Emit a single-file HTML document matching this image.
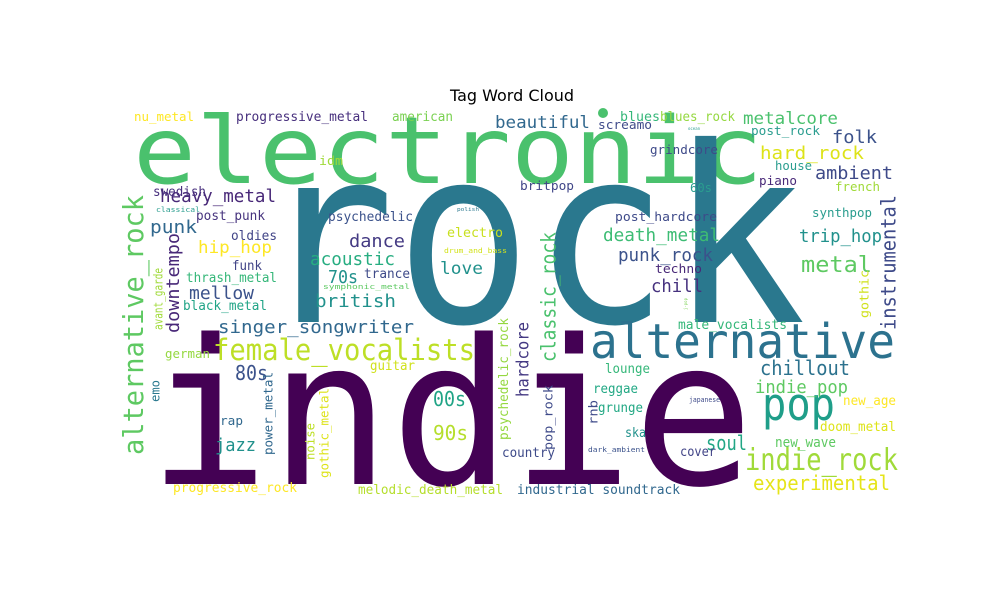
<!DOCTYPE html>
<html><head><meta charset="utf-8"><style>
html,body{margin:0;padding:0;background:#fff;width:1000px;height:600px;overflow:hidden}
svg text{font-family:"DejaVu Sans Mono","Liberation Mono",monospace}
</style></head><body>
<svg id="cloud" width="1000" height="600" viewBox="0 0 1000 600" xmlns="http://www.w3.org/2000/svg">
<rect width="1000" height="600" fill="#fff"/>
<text x="512" y="101" text-anchor="middle" font-size="16" style="font-family:'DejaVu Sans','Liberation Sans',sans-serif" fill="#000">Tag Word Cloud</text>
<circle cx="603" cy="113" r="5" fill="#4ac16d"/>
</svg>
<script>
// [word, x, baseline/bottom y, font size, color, ink length, vertical]
const words = [
["electronic",133,183,93,"#4ac16d",630,0],
["rock",258,322,245,"#2a788e",548,0],
["indie",148,484,202,"#440154",606,0],
["alternative",590,358,48,"#2c728e",305,0],
["female_vocalists",213,360,29,"#bddf26",262,0],
["pop",762,420,45,"#1f9e89",73,0],
["indie_rock",745,470,30,"#a0da39",153,0],
["experimental",753,490,20,"#e5e419",137,0],
["chillout",760,375,20,"#2c728e",90,0],
["indie_pop",755,393,18,"#5ec962",93,0],
["soul",706,450,20,"#21a685",41,0],
["new_wave",775,447,14,"#5ec962",61,0],
["cover",680,456,13,"#414487",36,0],
["doom_metal",820,431,13,"#dde318",76,0],
["new_age",843,405,13,"#fde725",53,0],
["japanese",689,402,7,"#3e4a89",31,0],
["dark_ambient",588,452,7,"#3b528b",57,0],
["ska",625,437,13,"#21918c",21,0],
["grunge",598,412,13,"#22a884",45,0],
["reggae",593,393,13,"#22a884",45,0],
["lounge",605,373,13,"#35b779",45,0],
["male_vocalists",678,329,13,"#35b779",109,0],
["industrial soundtrack",517,494,13,"#31688e",163,0],
["country",502,457,13,"#3e4a89",53,0],
["melodic_death_metal",358,494,13,"#b5de2b",145,0],
["progressive_rock",173,492,13,"#fde725",124,0],
["90s",433,440,20,"#b5de2b",35,0],
["00s",433,406,20,"#20a486",33,0],
["jazz",215,451,18,"#21918c",41,0],
["rap",220,425,12,"#31688e",23,0],
["guitar",370,370,13,"#d0e11c",45,0],
["german",165,358,12,"#95d840",45,0],
["80s",235,380,20,"#3b528b",33,0],
["singer_songwriter",218,333,18,"#31688e",196,0],
["british",315,307,18,"#21918c",81,0],
["mellow",189,299,18,"#3b528b",65,0],
["black_metal",183,310,13,"#20a486",84,0],
["thrash_metal",186,282,13,"#35b779",91,0],
["funk",232,270,13,"#414487",30,0],
["oldies",231,240,13,"#414487",46,0],
["post_punk",196,220,13,"#46337e",69,0],
["hip_hop",198,253,17,"#fde725",74,0],
["punk",150,233,18,"#31688e",47,0],
["heavy_metal",160,202,18,"#482878",116,0],
["classical",156,212,7,"#2a9d8f",44,0],
["swedish",153,196,13,"#472f7d",53,0],
["nu_metal",134,121,12,"#fde725",60,0],
["progressive_metal",236,121,13,"#472f7d",132,0],
["american",392,121,13,"#7ad151",61,0],
["idm",319,165,12,"#a0da39",24,0],
["psychedelic",328,221,13,"#3b528b",85,0],
["dance",349,247,18,"#443a83",56,0],
["acoustic",310,265,18,"#27ad81",85,0],
["70s",328,283,18,"#21918c",30,0],
["trance",364,278,13,"#3e4a89",46,0],
["symphonic_metal",323,289,7,"#5ec962",87,0],
["love",440,274,17,"#21918c",43,0],
["electro",447,237,13,"#c8e020",56,0],
["drum_and_bass",444,253,7,"#d2e21b",63,0],
["polish",457,211,5,"#2a788e",22,0],
["beautiful",495,128,17,"#31688e",95,0],
["blues",620,121,13,"#35b779",40,0],
["blues_rock",660,121,13,"#95d840",75,0],
["screamo",598,129,12,"#3e4a89",54,0],
["grindcore",650,154,12,"#3e4a89",68,0],
["britpop",520,190,12,"#404688",54,0],
["60s",690,192,12,"#2a9d8f",22,0],
["post_hardcore",615,221,12,"#3e4a89",102,0],
["death_metal",603,241,18,"#3dbc74",117,0],
["punk_rock",618,261,18,"#3b528b",95,0],
["techno",655,273,12,"#482878",47,0],
["chill",651,292,18,"#46317e",52,0],
["metalcore",743,124,17,"#4ac16d",95,0],
["post_rock",751,135,12,"#2a9d8f",69,0],
["folk",832,143,18,"#3b528b",45,0],
["hard_rock",760,159,18,"#dde318",104,0],
["ambient",815,179,18,"#3e4a89",78,0],
["house",775,170,12,"#2a9d8f",37,0],
["piano",759,185,12,"#482878",38,0],
["french",835,191,12,"#a0da39",45,0],
["synthpop",812,217,12,"#2a9d8f",60,0],
["trip_hop",799,242,18,"#21918c",83,0],
["metal",801,272,22,"#5ec962",71,0],
["ocean",688,130,4,"#2a9d8f",12,0],
// vertical words: x = right edge of column, y = bottom
["alternative_rock",149,455,28,"#5ec962",260,1],
["downtempo",183,333,18,"#482878",100,1],
["avant_garde",165,330,12,"#a0da39",62,1],
["emo",162,402,12,"#2a788e",22,1],
["power_metal",275,455,12,"#31688e",83,1],
["noise",317,460,12,"#bddf26",37,1],
["gothic_metal",331,478,12,"#dde318",90,1],
["psychedelic_rock",511,440,13,"#95d840",122,1],
["hardcore",532,397,17,"#443983",75,1],
["classic_rock",560,362,20,"#4ac16d",130,1],
["pop_rock",555,450,12,"#3e4a89",65,1],
["rnb",600,425,12,"#3e4a89",25,1],
["instrumental",900,330,20,"#3e4a89",135,1],
["gothic",871,318,12,"#d0e11c",48,1],
["j-pop",688,310,4,"#7ad151",12,1]
];
const svg = document.getElementById('cloud');
const NS = 'http://www.w3.org/2000/svg';
words.forEach(w => {
  const t = document.createElementNS(NS, 'text');
  t.textContent = w[0];
  t.setAttribute('font-size', w[3]);
  t.setAttribute('fill', w[4]);
  t.setAttribute('textLength', w[5]);
  t.setAttribute('lengthAdjust', 'spacingAndGlyphs');
  if (w[6]) {
    const bx = w[1] - w[3] * 0.22;
    t.setAttribute('x', bx);
    t.setAttribute('y', w[2]);
    t.setAttribute('transform', 'rotate(-90 ' + bx + ' ' + w[2] + ')');
  } else {
    t.setAttribute('x', w[1]);
    t.setAttribute('y', w[2]);
  }
  
  
  svg.appendChild(t);
});
</script>
</body></html>
